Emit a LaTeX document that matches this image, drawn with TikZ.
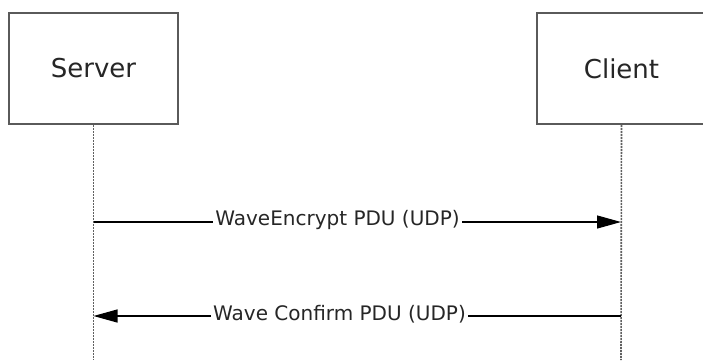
\documentclass[tikz,border=0pt]{standalone}
\usepackage{fontspec}
\setmainfont{DejaVu Sans}
\usetikzlibrary{arrows.meta}
\definecolor{boxgray}{HTML}{5A5A5A}
\definecolor{lifegray}{HTML}{606060}
\begin{document}
\begin{tikzpicture}[x=1pt,y=-1pt,
  actor/.style={draw=boxgray,line width=1.5pt,fill=white,minimum width=169pt,minimum height=111pt,inner sep=0pt,font=\fontsize{26}{30}\selectfont,text=black!85},
  lifeline/.style={draw=lifegray,line width=1.6pt,dash pattern=on 2pt off 1pt},
  msg/.style={draw=black,line width=1.2pt,-{Triangle[length=24pt,width=13pt]}},
  msglabel/.style={fill=white,inner sep=2pt,font=\fontsize{20}{24}\selectfont,text=black!85}]
\useasboundingbox (0,0) rectangle (703,360);
\fill[white] (0,0) rectangle (703,360);
\coordinate (sb) at (93.5,360);
\coordinate (cb) at (621,360);
\node[actor] (server) at (93.5,68.5) {Server};
\node[actor] (client) at (621.5,68.5) {Client};
\draw[lifeline] (server.south) -- (sb);
\draw[lifeline] (client.south) -- (cb);
\coordinate (s1) at (93.5,222);
\coordinate (c1) at (621,222);
\coordinate (s2) at (93.5,316);
\coordinate (c2) at (621,316);
\draw[msg] (s1) -- (c1);
\draw[msg] (c2) -- (s2);
\node[msglabel] (l1) at (337.5,220) {WaveEncrypt PDU (UDP)};
\node[msglabel] (l2) at (339.5,314) {Wave Confirm PDU (UDP)};
\end{tikzpicture}
\end{document}
